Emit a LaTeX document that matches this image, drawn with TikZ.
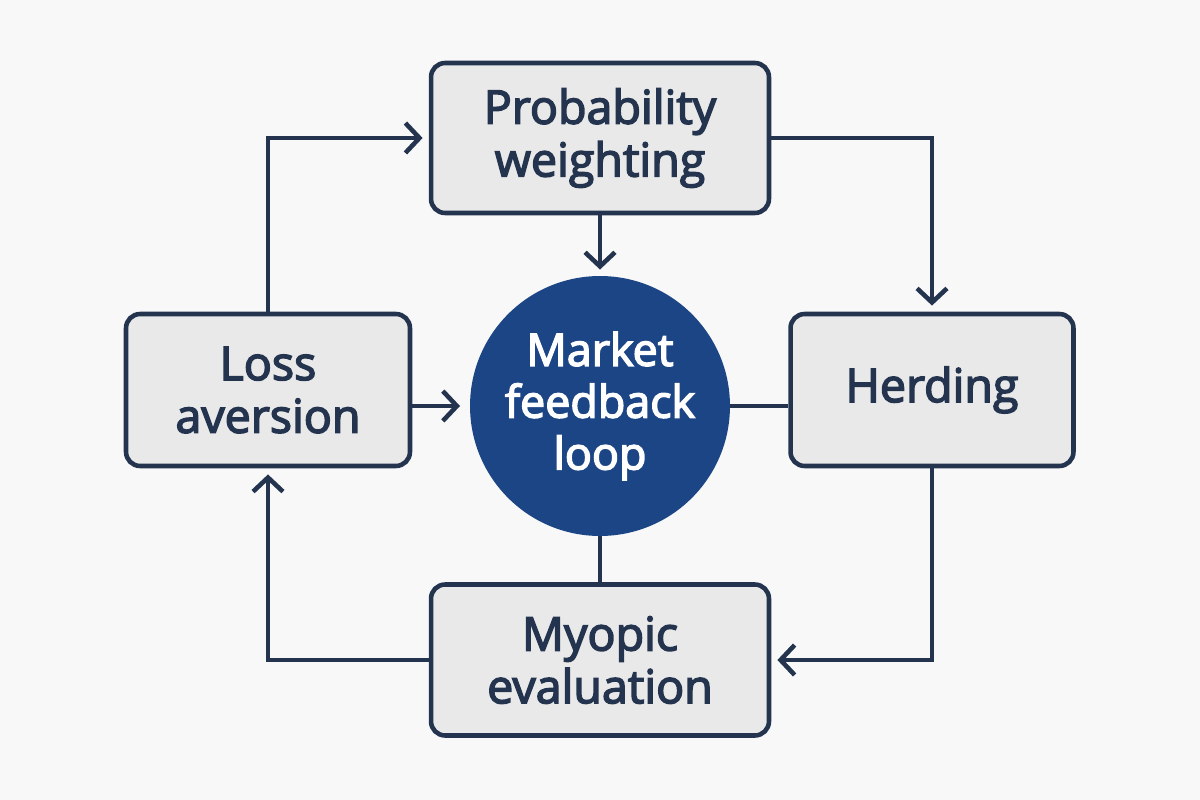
\documentclass[tikz,border=0pt]{standalone}
\usepackage{fontspec}
\setmainfont{Open Sans}[UprightFont=*,BoldFont=*,BoldFeatures={FakeBold=3.2}]
\usepackage{tikz}
\usetikzlibrary{arrows.meta,shapes.geometric,calc}
\definecolor{navyline}{HTML}{24344F}
\definecolor{loopblue}{HTML}{1B4585}
\definecolor{boxgray}{HTML}{E9E9E9}
\definecolor{paper}{HTML}{F8F8F8}
\tikzset{
  factorbox/.style={draw=navyline,fill=boxgray,line width=2.6pt,rounded corners=8pt,
    text=navyline,align=center,font=\bfseries\fontsize{26.5}{30}\selectfont},
  loopnode/.style={circle,fill=loopblue,text=white,align=center,minimum size=5.2cm,
    inner sep=0pt,font=\bfseries\fontsize{25.5}{29.5}\selectfont},
  link/.style={navyline,line width=2.6pt},
  flow/.style={link,-{Straight Barb[length=8pt,width=17pt,line width=2.6pt]},shorten >=3.5pt}
}
\begin{document}
\begin{tikzpicture}[x=0.02cm,y=-0.02cm]
			\useasboundingbox [fill=paper] (0,0) rectangle (1200,800);
			\node [factorbox,minimum width=6.76cm,minimum height=3.0cm] (prob) at (600,138) {Probability\\weighting};
			\node [factorbox,minimum width=5.68cm,minimum height=3.04cm] (loss) at (268,390) {Loss\\aversion};
			\node [factorbox,minimum width=5.66cm,minimum height=3.04cm] (herd) at (932,390) {Herding};
			\node [factorbox,minimum width=6.76cm,minimum height=3.02cm] (myo) at (600,660) {Myopic\\evaluation};
			\node [loopnode] (loop) at (600,406) {Market\\feedback\\loop};
			\draw [flow] (loss.north) |- (prob.west);
			\draw [flow] (prob.east) -| (herd.north);
			\draw [flow] (prob.south) -- (loop.north);
			\draw [flow,shorten >=5.5pt] (loop.west -| loss.east) -- (loop.west);
			\draw [link] (loop.east) -- (loop.east -| herd.west);
			\draw [link] (loop.south) -- (myo.north);
			\draw [flow] (herd.south) |- (myo.east);
			\draw [flow] (myo.west) -| (loss.south);
		\end{tikzpicture}
\end{document}
